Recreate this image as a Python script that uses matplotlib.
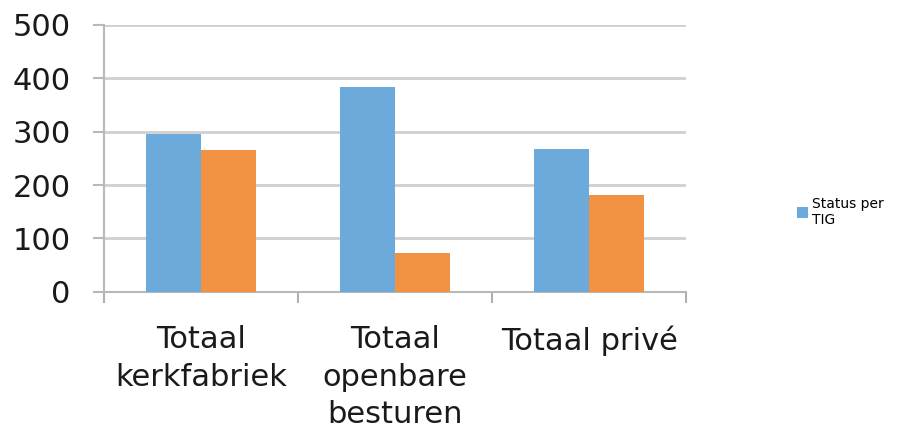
import matplotlib
matplotlib.use("Agg")
import matplotlib.pyplot as plt
from matplotlib.patches import Patch
import numpy as np

categories = ["Totaal\nkerkfabriek", "Totaal\nopenbare\nbesturen", "Totaal privé"]
series_blue = [295, 384, 268]
series_orange = [265, 72, 182]
legend_label = "Status per\nTIG"
yticks = [0, 100, 200, 300, 400, 500]

blue = "#6CAADB"
orange = "#F09242"
grid = "#CFCFCF"

fig = plt.figure(figsize=(9, 4.28), dpi=100)
ax = fig.add_axes([0.1156, 0.318, 0.6467, 0.6238])

x = np.arange(len(categories)) + 0.5
w = 1 / 3.5
ax.bar(x - w / 2, series_blue, width=w, color=blue, zorder=3)
ax.bar(x + w / 2, series_orange, width=w, color=orange, zorder=3)

ax.set_xlim(0, len(categories))
ax.set_ylim(0, 500)
ax.set_yticks(yticks)
ax.set_yticklabels([str(v) for v in yticks], fontsize=22, color="#1a1a1a")
ax.yaxis.grid(True, color=grid, linewidth=2)
ax.set_axisbelow(True)

ax.set_xticks(x)
ax.set_xticklabels(categories, fontsize=22, color="#1a1a1a", va="top", linespacing=1.36)
ax.tick_params(axis="x", length=0, pad=24)
ax.set_xticks(np.arange(len(categories) + 1), minor=True)
ax.tick_params(axis="x", which="minor", length=8, width=1.5, color="#b0b0b0", direction="out")
ax.tick_params(axis="y", length=8, width=1.5, color="#b8b8b8", direction="out", pad=16)

for s in ["top", "right"]:
    ax.spines[s].set_visible(False)
for s in ["left", "bottom"]:
    ax.spines[s].set_color("#b8b8b8")
    ax.spines[s].set_linewidth(1.5)

handles = [Patch(facecolor=blue, edgecolor="none")]
fig.legend(handles, [legend_label], loc="center left", bbox_to_anchor=(0.879, 0.505),
           frameon=False, fontsize=10, handlelength=0.8, handleheight=0.8,
           handletextpad=0.3, borderaxespad=0)

fig.savefig("out.png", dpi=100)
